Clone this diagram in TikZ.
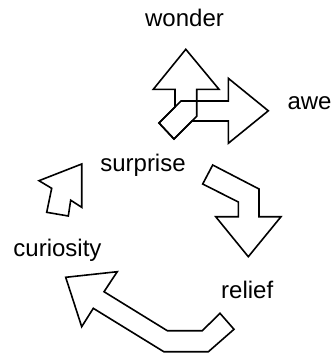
\documentclass[tikz,border=0pt]{standalone}
\usepackage{fontspec}
\setmainfont{Liberation Sans}
\usetikzlibrary{positioning}
\tikzset{
  word/.style={font=\fontsize{24}{28}\selectfont, inner sep=0pt},
  fatarrow/.style={draw=black, line width=1.6pt, line join=miter},
}
\begin{document}
\begin{tikzpicture}[x=1pt, y=-1pt]
    \useasboundingbox (0,0) rectangle (332,356);
    % Woerter (Grundlinie bei y)
    \node[word, anchor=base]      (wonder)    at (184.5,26.7)  {wonder};
    \node[word, anchor=base west] (awe)       at (287.3,109.3) {awe};
    \node[word, anchor=base]      (surprise)  at (143,171.7)   {surprise};
    \node[word, anchor=base]      (curiosity) at (57.5,256.7)  {curiosity};
    \node[word, anchor=base]      (relief)    at (247.2,298.3) {relief};
    % surprise -> wonder
    \draw[fatarrow] (159,123) -- (175,107) -- (175,89.3) -- (153.3,89.3)
      -- (185.8,49.3) -- (219,89.3) -- (196.7,89.3) -- (196.7,116.3)
      -- (174,139) -- cycle;
    % surprise -> awe
    \draw[fatarrow] (159,123) -- (181,101) -- (228.3,101) -- (228.3,78.3)
      -- (268.3,110.8) -- (228.3,143.3) -- (228.3,121) -- (192,121)
      -- (174,139) -- cycle;
    % curiosity -> surprise
    \draw[fatarrow] (46.7,212.3) -- (51.7,188.3) -- (39,180.7) -- (81.7,164)
      -- (81.7,207.3) -- (70.7,200.2) -- (68.3,216) -- cycle;
    % surprise -> relief
    \draw[fatarrow] (212.7,165) -- (202.7,184) -- (238.3,202) -- (238.3,216.7)
      -- (215.7,216.7) -- (248.3,256.7) -- (281,216.7) -- (259,216.7)
      -- (259,189) -- cycle;
    % relief -> curiosity
    \draw[fatarrow] (220,313.3) -- (202.3,330.7) -- (167.3,330.7) -- (104,291.7)
      -- (117.3,271.7) -- (65.7,277.3) -- (81.7,326.7) -- (93.3,308.3)
      -- (163.8,351.7) -- (208.4,351.7) -- (234,329.3) -- cycle;
\end{tikzpicture}
\end{document}
